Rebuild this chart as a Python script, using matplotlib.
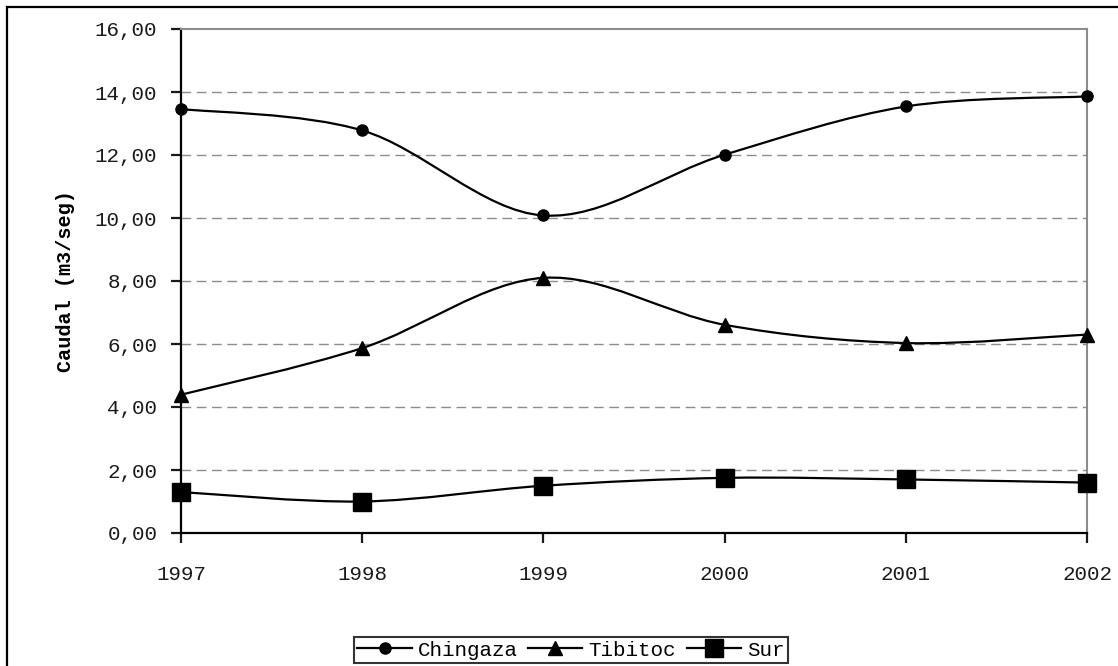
import numpy as np
import matplotlib
matplotlib.use("Agg")
import matplotlib.pyplot as plt
from matplotlib.path import Path
from matplotlib.patches import PathPatch, Rectangle
from matplotlib.lines import Line2D

# data (m3/seg)
years = [1997, 1998, 1999, 2000, 2001, 2002]
chingaza = [13.46, 12.78, 10.08, 12.01, 13.54, 13.86]
tibitoc = [4.39, 5.87, 8.10, 6.61, 6.03, 6.30]
sur = [1.30, 1.00, 1.50, 1.75, 1.70, 1.60]

series_names = ["Chingaza", "Tibitoc", "Sur"]
series_markers = ["o", "^", "s"]
marker_sizes = [8, 9.5, 12.5]

yticks = [0, 2, 4, 6, 8, 10, 12, 14, 16]

plt.rcParams['font.family'] = ['Liberation Mono', 'DejaVu Sans Mono']

W, H = 1118, 666
fig = plt.figure(figsize=(W / 100, H / 100), dpi=100, facecolor='white')


def smooth_path(x, y):
    """Excel-like smoothed line: cubic Bezier through every data point."""
    n = len(x)
    verts = [(x[0], y[0])]
    codes = [Path.MOVETO]
    for i in range(n - 1):
        a = i - 1 if i > 0 else i
        d = i + 2 if i + 2 < n else i + 1
        c1 = (x[i] + (x[i + 1] - x[a]) / 6, y[i] + (y[i + 1] - y[a]) / 6)
        c2 = (x[i + 1] - (x[d] - x[i]) / 6, y[i + 1] - (y[d] - y[i]) / 6)
        verts += [c1, c2, (x[i + 1], y[i + 1])]
        codes += [Path.CURVE4] * 3
    return Path(verts, codes)


# outer chart frame (runs off the right and bottom edge like the original)
fig.patches.append(Rectangle((7 / W, -0.05), 1.1, 1 - 7 / H + 0.05,
                             transform=fig.transFigure, fill=False,
                             edgecolor='black', linewidth=1.6))

ax = fig.add_axes([181 / W, (H - 533) / H, 906 / W, 504 / H])

for vals, mk, ms in zip([chingaza, tibitoc, sur], series_markers, marker_sizes):
    patch = PathPatch(smooth_path(years, vals), fill=False, edgecolor='black',
                      linewidth=1.6, transform=ax.transData, clip_on=False, zorder=3)
    ax.add_patch(patch)
    ax.plot(years, vals, linestyle='none', marker=mk, markersize=ms,
            color='black', clip_on=False, zorder=4)

ax.set_xlim(1997, 2002)
ax.set_ylim(0, 16)
ax.set_xticks(years)
ax.set_xticklabels([str(y) for y in years])
ax.set_yticks(yticks)
ax.set_yticklabels([f"{v:.2f}".replace('.', ',') for v in yticks])

for v in yticks[1:-1]:
    ax.axhline(v, color='#8c8c8c', linewidth=1.0, dashes=(7, 4), zorder=1)

for side in ['top', 'right']:
    ax.spines[side].set_color('#8c8c8c')
    ax.spines[side].set_linewidth(1.5)
for side in ['left', 'bottom']:
    ax.spines[side].set_color('black')
    ax.spines[side].set_linewidth(1.6)

ax.tick_params(axis='both', direction='out', length=7, width=1.6,
               labelsize=15, colors='#1a1a1a')
ax.tick_params(axis='x', pad=16)
ax.tick_params(axis='y', pad=10)

ax.set_ylabel("Caudal (m3/seg)", fontsize=14.5, fontweight='bold', labelpad=14)

handles = [Line2D([], [], color='black', linewidth=1.6, marker=mk, markersize=ms)
           for mk, ms in zip(series_markers, marker_sizes)]
leg = fig.legend(handles, series_names, loc='center',
                 bbox_to_anchor=(571 / W, 1 - 650 / H), ncol=3, frameon=True,
                 fancybox=False, edgecolor='black', fontsize=15,
                 handlelength=2.6, handletextpad=0.3, columnspacing=0.5,
                 borderpad=0.15, borderaxespad=0)
leg.get_frame().set_linewidth(1.5)

fig.savefig("out.png", dpi=100, facecolor='white')
